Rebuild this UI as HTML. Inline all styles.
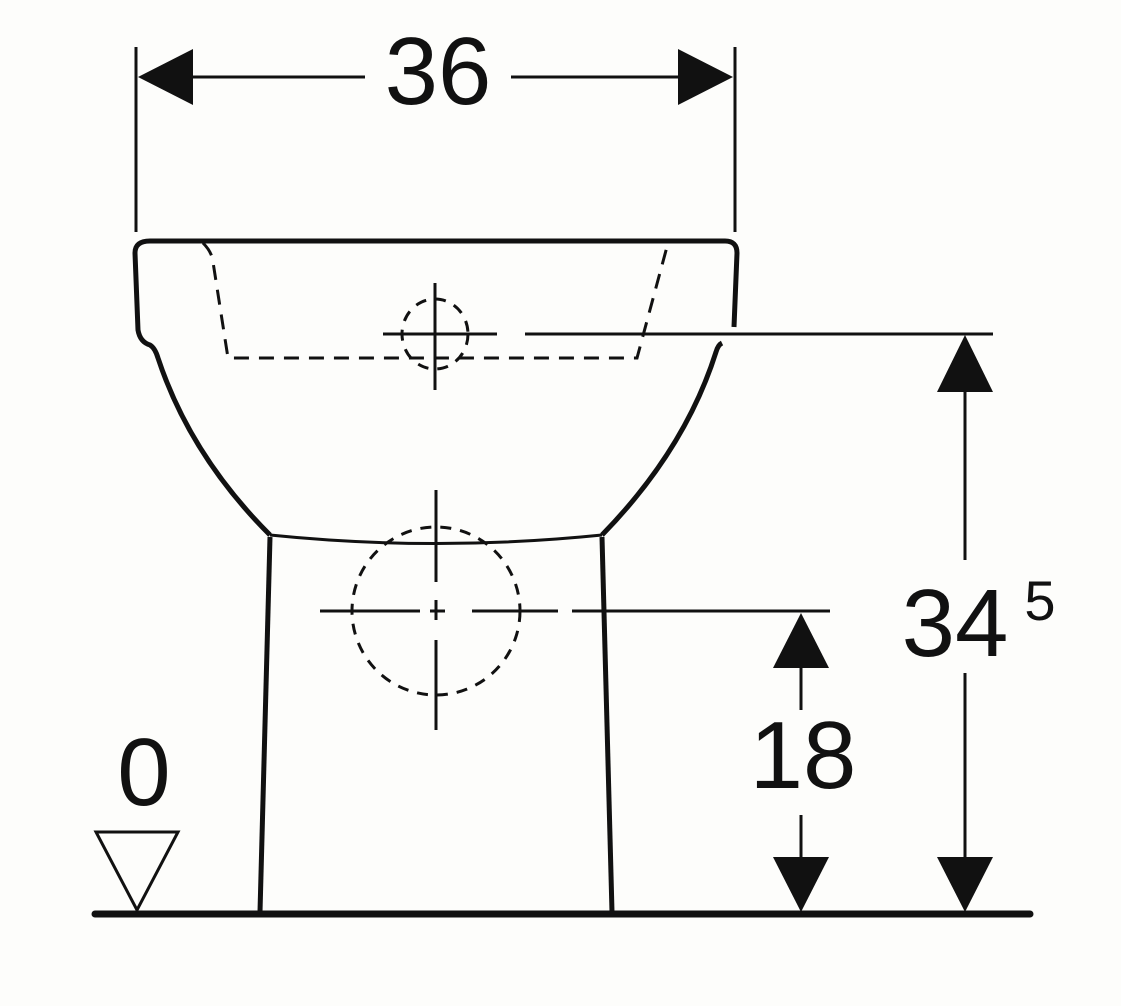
<!DOCTYPE html>
<html><head><style>html,body{margin:0;padding:0;background:#fdfdfb}</style></head>
<body>
<svg width="1121" height="1001" viewBox="0 0 1121 1001" xmlns="http://www.w3.org/2000/svg">
<rect width="1121" height="1001" fill="#fdfdfb"/>
<g stroke="#111" fill="none" stroke-linecap="butt">
<!-- top dim -->
<line x1="136" y1="47" x2="136" y2="232" stroke-width="3"/>
<line x1="735" y1="47" x2="735" y2="232" stroke-width="3"/>
<line x1="190" y1="77" x2="365" y2="77" stroke-width="3"/>
<line x1="511" y1="77" x2="680" y2="77" stroke-width="3"/>
<!-- bowl -->
<path d="M150,241 L725,241 Q737,241 737,253 L734,327" stroke-width="5"/>
<path d="M150,241 Q135,241 135,253 L138,330 Q140,342 150,345 Q155,348 158,358 Q190,455 270,535" stroke-width="5"/>
<path d="M722,343 Q718,345 716,352 Q685,450 602,535" stroke-width="5"/>
<path d="M270,535 Q436,552 602,535" stroke-width="3"/>
<line x1="270" y1="537" x2="260" y2="912" stroke-width="5"/>
<line x1="602" y1="537" x2="612" y2="912" stroke-width="5"/>
<!-- dashed trapezoid -->
<path d="M203,243 Q212,252 213,262 L228,358 L637,358 L668,243" stroke-width="3" stroke-dasharray="15,10"/>
<ellipse cx="435" cy="334" rx="33" ry="35" stroke-width="3" stroke-dasharray="11,9"/>
<line x1="383" y1="334" x2="497" y2="334" stroke-width="3"/>
<line x1="435" y1="283" x2="435" y2="390" stroke-width="3"/>
<line x1="525" y1="334" x2="993" y2="334" stroke-width="3"/>
<!-- big circle -->
<circle cx="436" cy="611" r="84" stroke-width="3" stroke-dasharray="11,9"/>
<line x1="436" y1="490" x2="436" y2="582" stroke-width="3"/>
<line x1="436" y1="600" x2="436" y2="620" stroke-width="3"/>
<line x1="436" y1="640" x2="436" y2="730" stroke-width="3"/>
<line x1="320" y1="611" x2="420" y2="611" stroke-width="3"/>
<line x1="430" y1="611" x2="445" y2="611" stroke-width="3"/>
<line x1="472" y1="611" x2="558" y2="611" stroke-width="3"/>
<line x1="572" y1="611" x2="830" y2="611" stroke-width="3"/>
<!-- right dims -->
<line x1="965" y1="390" x2="965" y2="560" stroke-width="3"/>
<line x1="965" y1="673" x2="965" y2="860" stroke-width="3"/>
<line x1="801" y1="666" x2="801" y2="710" stroke-width="3"/>
<line x1="801" y1="815" x2="801" y2="860" stroke-width="3"/>
<!-- ground -->
<line x1="95" y1="914" x2="1030" y2="914" stroke-width="7" stroke-linecap="round"/>
<polygon points="96,832 178,832 137,910" stroke-width="3"/>
</g>
<g fill="#111">
<polygon points="138,77 193,49 193,105"/>
<polygon points="733,77 678,49 678,105"/>
<polygon points="965,335 937,392 993,392"/>
<polygon points="965,912 937,857 993,857"/>
<polygon points="801,613 773,668 829,668"/>
<polygon points="801,912 773,857 829,857"/>
</g>
<g font-family="Liberation Sans, sans-serif" fill="#111">
<text x="438" y="104" font-size="96" text-anchor="middle">36</text>
<text x="955" y="656" font-size="96" text-anchor="middle">34</text>
<text x="1040" y="620" font-size="56" text-anchor="middle">5</text>
<text x="803" y="788" font-size="96" text-anchor="middle">18</text>
<text x="144" y="805" font-size="96" text-anchor="middle">0</text>
</g>
</svg>
</body></html>
